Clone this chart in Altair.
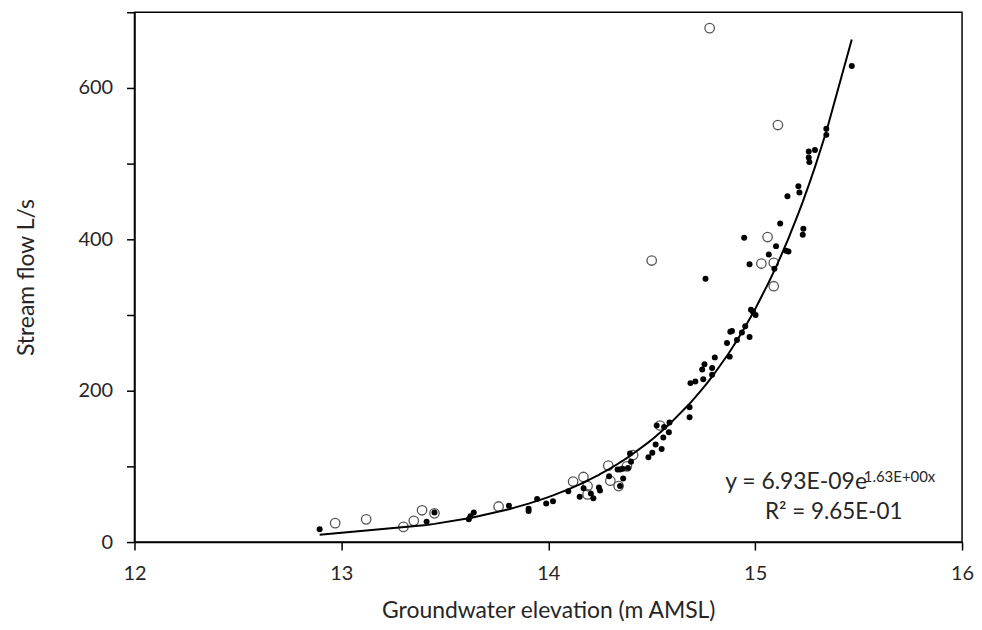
import altair as alt
import pandas as pd

# Filled points (measured, used for the exponential fit)
fx = [12.895, 13.412, 13.45, 13.616, 13.624, 13.64, 13.81, 13.905, 13.905, 13.946,
      13.99, 14.023, 14.097, 14.152, 14.171, 14.206, 14.218, 14.245, 14.25, 14.294,
      14.335, 14.347, 14.359, 14.347, 14.362, 14.385, 14.40, 14.395, 14.484, 14.503,
      14.519, 14.548, 14.524, 14.56, 14.586, 14.583, 14.556, 14.683, 14.683, 14.687,
      14.711, 14.744, 14.755, 14.749, 14.792, 14.792, 14.805, 14.877, 14.864, 14.88,
      14.888, 14.912, 14.936, 14.952, 14.973, 14.98, 14.99, 15.002, 14.76, 14.947,
      14.973, 15.093, 15.066, 15.101, 15.149, 15.161, 15.121, 15.233, 15.23, 15.156,
      15.209, 15.214, 15.259, 15.289, 15.259, 15.262, 15.344, 15.344, 15.467]
fy = [17, 27, 39, 30, 34, 39, 48, 44, 41, 57,
      51, 54, 67, 60, 71, 64, 58, 72, 68, 87,
      96, 96, 97, 74, 84, 98, 106, 117, 112, 118,
      129, 123, 154, 152, 158, 145, 138, 178, 165, 210,
      212, 228, 235, 215, 230, 221, 244, 245, 263, 278,
      279, 267, 277, 285, 271, 307, 304, 300, 348, 402,
      367, 361, 380, 391, 385, 384, 421, 414, 406, 457,
      470, 462, 516, 518, 508, 502, 546, 538, 629]

# Open circles
ox = [12.97, 13.12, 13.30, 13.35, 13.39, 13.45, 13.76, 14.12, 14.17, 14.19,
      14.19, 14.29, 14.30, 14.34, 14.38, 14.41, 14.54, 14.50, 14.78, 15.06,
      15.03, 15.09, 15.09, 15.11]
oy = [25, 30, 20, 28, 42, 38, 47, 80, 86, 74,
      63, 101, 81, 74, 100, 115, 154, 372, 679, 403,
      368, 369, 338, 551]

x_ticks = [12, 12.5, 13, 13.5, 14, 14.5, 15, 15.5, 16]
y_ticks = [0, 100, 200, 300, 400, 500, 600, 700]

filled = pd.DataFrame({"x": fx, "y": fy})
opened = pd.DataFrame({"x": ox, "y": oy})

FONT = "Lato"
TXT = "#262626"

xs = alt.Scale(domain=[12, 16], nice=False, zero=False)
ys = alt.Scale(domain=[0, 700], nice=False)

xaxis = alt.Axis(values=x_ticks, format="d",
                 labelExpr="datum.value % 1 == 0 ? datum.label : ''",
                 title="Groundwater elevation (m AMSL)", grid=False, labelFlush=False,
                 labelPadding=14, titlePadding=16, tickSize=8)
yaxis = alt.Axis(values=y_ticks, format="d",
                 labelExpr="datum.value % 200 == 0 ? datum.label : ''",
                 title="Stream flow L/s", grid=False, labelFlush=False,
                 labelPadding=14, titlePadding=40, tickSize=8)

base_open = alt.Chart(opened).mark_point(
    shape="circle", filled=False, color="#555555", size=90, strokeWidth=1.3, opacity=1
).encode(
    x=alt.X("x:Q", scale=xs, axis=xaxis),
    y=alt.Y("y:Q", scale=ys, axis=yaxis),
)

dots = alt.Chart(filled).mark_circle(color="black", size=36, opacity=1).encode(
    x=alt.X("x:Q", scale=xs),
    y=alt.Y("y:Q", scale=ys),
)

# least-squares fit of ln(y) on x (Excel-style exponential trendline)
fit = alt.Chart(filled).transform_calculate(
    ly="log(datum.y)"
).transform_joinaggregate(
    mx="mean(x)", mly="mean(ly)"
).transform_calculate(
    dxy="(datum.x - datum.mx) * (datum.ly - datum.mly)",
    dxx="(datum.x - datum.mx) * (datum.x - datum.mx)",
).transform_joinaggregate(
    sxy="sum(dxy)", sxx="sum(dxx)"
).transform_calculate(
    fit="exp(datum.mly + datum.sxy / datum.sxx * (datum.x - datum.mx))"
).mark_line(color="black", strokeWidth=2).encode(
    x=alt.X("x:Q", scale=xs),
    y=alt.Y("fit:Q", scale=ys),
    order="x:Q",
)

eq1 = alt.Chart().mark_text(align="left", baseline="alphabetic", font=FONT, fontSize=23, color=TXT).encode(
    x=alt.datum(14.855), y=alt.datum(70), text=alt.value("y = 6.93E-09e"))
eq2 = alt.Chart().mark_text(align="left", baseline="alphabetic", font=FONT, fontSize=15, color=TXT).encode(
    x=alt.datum(15.525), y=alt.datum(80), text=alt.value("1.63E+00x"))
eq3 = alt.Chart().mark_text(align="center", baseline="alphabetic", font=FONT, fontSize=22.5, color=TXT).encode(
    x=alt.datum(15.38), y=alt.datum(30), text=alt.value("R² = 9.65E-01"))

chart = alt.layer(base_open, dots, fit, eq1, eq2, eq3).properties(
    width=831, height=532,
    autosize=alt.AutoSizeParams(type="none"),
    padding={"left": 127, "top": 3, "right": 12, "bottom": 79},
).configure_view(
    stroke="black", strokeWidth=1.5
).configure_axis(
    domainColor="black", domainWidth=1.5, tickColor="black", tickWidth=1.5,
    labelFont=FONT, labelFontSize=20, labelColor=TXT,
    titleFont=FONT, titleFontSize=23, titleColor=TXT, titleFontWeight="normal",
)

chart.save("out.html", embed_options={"renderer": "svg", "actions": False})
